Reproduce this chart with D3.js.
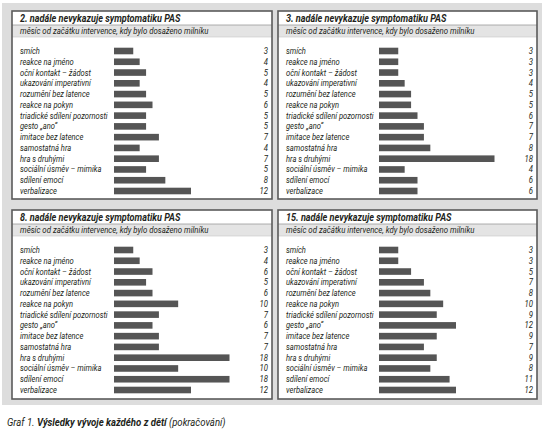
<!DOCTYPE html>
<html><head><meta charset="utf-8">
<script src="https://cdn.jsdelivr.net/npm/d3@7"></script>
<style>
html,body{margin:0;padding:0;background:#fff;}
svg{display:block;}
text{font-family:"Liberation Sans Narrow","Arial Narrow","Roboto",sans-serif;fill:#231f20;}
</style></head>
<body>
<script>
const categories = ["smích","reakce na jméno","oční kontakt – žádost","ukazování imperativní","rozumění bez latence","reakce na pokyn","triadické sdílení pozornosti","gesto „ano“","imitace bez latence","samostatná hra","hra s druhými","sociální úsměv – mimika","sdílení emocí","verbalizace"];
const titles = ["2. nadále nevykazuje symptomatiku PAS","3. nadále nevykazuje symptomatiku PAS","8. nadále nevykazuje symptomatiku PAS","15. nadále nevykazuje symptomatiku PAS"];
const subtitle = "měsíc od začátku intervence, kdy bylo dosaženo milníku";
const child2 = [3,4,5,4,5,6,5,5,7,4,7,5,8,12];
const child3 = [3,3,3,4,5,5,6,7,7,8,18,4,6,6];
const child8 = [3,4,6,5,6,10,7,6,7,7,18,10,18,12];
const child15 = [3,3,5,7,8,10,9,12,9,7,9,8,11,12];
const series = [child2, child3, child8, child15];

const W = 549, H = 432;
const svg = d3.select("body").append("svg").attr("width", W).attr("height", H);

svg.append("rect").attr("x",2).attr("y",3).attr("width",540).attr("height",402).attr("fill","#dddddd");

const boxes = [
  {x:12, y:11, w:260, h:188},
  {x:278, y:11, w:259, h:188},
  {x:12, y:210, w:260, h:189},
  {x:278, y:210, w:259, h:189}
];

const x = d3.scaleLinear().domain([0,18]).range([0,115.5]);

boxes.forEach((b,i)=>{
  const g = svg.append("g").attr("transform",`translate(${b.x},${b.y})`);
  g.append("rect").attr("width",b.w).attr("height",b.h).attr("fill","#fff");
  g.append("rect").attr("x",0).attr("y",14).attr("width",b.w).attr("height",12).attr("fill","#e4e4e4");
  g.append("line").attr("x1",0).attr("x2",b.w).attr("y1",14).attr("y2",14).attr("stroke","#9a9a9a").attr("stroke-width",0.8);
  g.append("line").attr("x1",0).attr("x2",b.w).attr("y1",26).attr("y2",26).attr("stroke","#c8c8c8").attr("stroke-width",0.6);
  g.append("rect").attr("width",b.w).attr("height",b.h).attr("fill","none").attr("stroke","#5a5a5a").attr("stroke-width",1.6);

  g.append("text").attr("transform","translate(8,10.5) scale(0.91,1)").attr("font-size",10).attr("font-weight","bold").attr("font-style","italic").text(titles[i]);
  g.append("text").attr("transform","translate(8,23) scale(0.91,1)").attr("font-size",8.6).attr("font-style","italic").text(subtitle);

  const bx = (i%2===0) ? 102 : 101;
  const y = d3.scalePoint().domain(categories).range([40, 180]);
  const vals = series[i];
  const rows = g.selectAll("g.row").data(categories.map((c,k)=>({c, v:vals[k]}))).enter().append("g").attr("class","row")
    .attr("transform",d=>`translate(0,${y(d.c)})`);
  rows.append("text").attr("transform","translate(8,3) scale(0.88,1)").attr("font-size",8.6).attr("font-style","italic").text(d=>d.c);
  rows.append("rect").attr("x",bx).attr("y",-3.3).attr("height",6.6).attr("width",d=>x(d.v)).attr("fill","#555555");
  rows.append("text").attr("transform",`translate(${b.w-4},3) scale(0.9,1)`).attr("font-size",8.6).attr("font-style","italic").attr("text-anchor","end").text(d=>d.v);
});

const cap = svg.append("text").attr("transform","translate(7,426) scale(0.94,1)").attr("font-size",10.2).attr("font-style","italic");
cap.append("tspan").text("Graf 1. ");
cap.append("tspan").attr("font-weight","bold").text("Výsledky vývoje každého z dětí");
cap.append("tspan").text(" (pokračování)");
</script>
</body></html>
